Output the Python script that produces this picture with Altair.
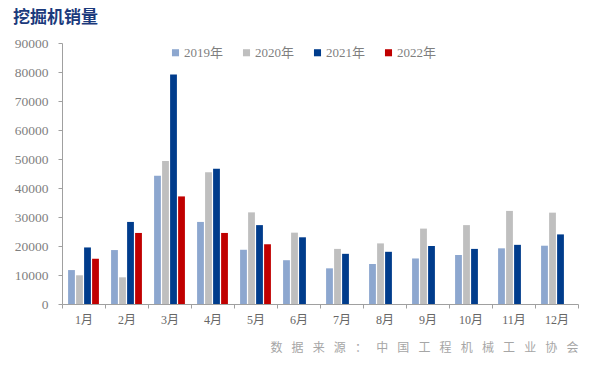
import altair as alt
import pandas as pd

months = ["1月", "2月", "3月", "4月", "5月", "6月", "7月", "8月", "9月", "10月", "11月", "12月"]
years = ["2019年", "2020年", "2021年", "2022年"]
v2019 = [11700, 18600, 44200, 28300, 18700, 15100, 12300, 13800, 15700, 16900, 19200, 20100]
v2020 = [9900, 9200, 49300, 45400, 31600, 24600, 19000, 20900, 26000, 27200, 32100, 31500]
v2021 = [19500, 28300, 79100, 46600, 27200, 23000, 17300, 18000, 20000, 19000, 20400, 24000]
v2022 = [15600, 24500, 37100, 24500, 20600]
colors = ["#8DA7CF", "#BFBFBF", "#003C8C", "#C00000"]

rows = []
for yr, vals in zip(years, [v2019, v2020, v2021, v2022]):
    for m, v in zip(months, vals):
        rows.append({"month": m, "year": yr, "value": v})
df = pd.DataFrame(rows)

serif = "Liberation Serif, Noto Sans CJK SC"
source = "\u2002\u2009\u200a".join(list("数据来源：中国工程机械工业协会"))

chart = alt.Chart(df).mark_bar().encode(
    x=alt.X("month:N", sort=months,
            scale=alt.Scale(paddingInner=0, paddingOuter=0),
            axis=alt.Axis(title=source, titleAnchor="end", titleFont="Noto Sans CJK SC",
                          titleFontSize=12, titleFontWeight="normal", titleColor="#A6A6A6",
                          titlePadding=17, labelAngle=0, labelFont=serif, labelFontSize=12,
                          labelColor="#666666", labelPadding=6, tickBand="extent",
                          domainColor="#A0A0A0", tickColor="#A0A0A0", tickSize=4)),
    xOffset=alt.XOffset("year:N", sort=years,
                        scale=alt.Scale(paddingInner=0.15, paddingOuter=0.76)),
    y=alt.Y("value:Q", scale=alt.Scale(domain=[0, 90000]),
            axis=alt.Axis(title=None, values=list(range(0, 90001, 10000)), format="d",
                          grid=False, labelFont=serif, labelFontSize=13.5,
                          labelColor="#7F7F7F", labelPadding=10, tickSize=4,
                          domainColor="#A0A0A0", tickColor="#A0A0A0",
                          minExtent=49, maxExtent=49)),
    color=alt.Color("year:N", sort=years,
                    scale=alt.Scale(domain=years, range=colors),
                    legend=alt.Legend(title=None, orient="none", legendX=107, legendY=3,
                                      direction="horizontal", symbolType="square",
                                      symbolSize=50, symbolStrokeWidth=0,
                                      labelFont=serif, labelFontSize=13,
                                      labelColor="#7F7F7F", columnPadding=16,
                                      labelOffset=2)),
).properties(
    width=516, height=261,
    padding={"left": 5, "top": 1, "right": 5, "bottom": 0},
    title=alt.TitleParams(text="挖掘机销量", anchor="start", frame="bounds",
                          font="Noto Sans CJK SC", fontSize=17, fontWeight="bold",
                          color="#1B3A7C", offset=9, limit=300),
).configure_view(stroke=None)

chart.save("out.html", embed_options={"renderer": "svg", "actions": False})
